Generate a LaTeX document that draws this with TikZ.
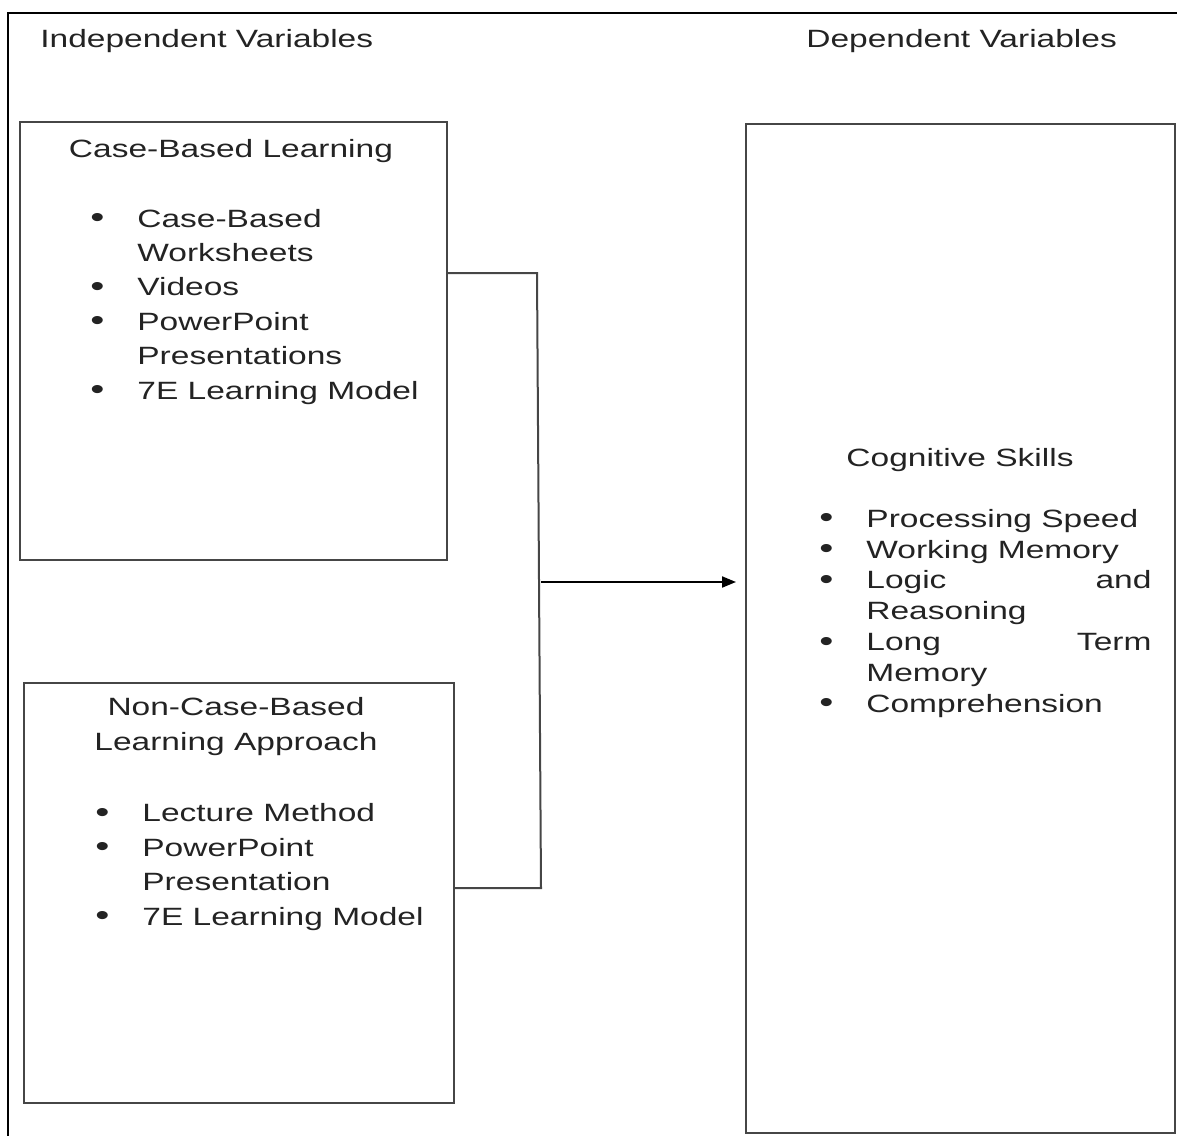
\documentclass[tikz,border=0pt]{standalone}
\usepackage{fontspec}
\setmainfont{Liberation Sans}[FakeStretch=1.34]
\usetikzlibrary{arrows.meta, positioning}
\definecolor{textcolor}{RGB}{35,35,35}
\definecolor{linecolor}{RGB}{70,70,70}
\newcommand{\bul}{\makebox[23.5pt][l]{\raisebox{-0.3pt}{\scalebox{1.2}{\textbullet}}}}
\newcommand{\cont}{\hspace*{23.5pt}}

\begin{document}
\begin{tikzpicture}[
    x=0.5pt, y=-0.5pt,
    varbox/.style={draw=linecolor, line width=1pt, inner sep=0pt},
    heading/.style={font=\fontsize{12.5}{17.2}\selectfont, text=textcolor, inner sep=0pt, anchor=base},
    listtext/.style={font=\fontsize{12.5}{17.2}\selectfont, text=textcolor, inner sep=0pt, align=left, anchor=base west},
    link/.style={draw=linecolor, line width=1pt},
    arrow/.style={-{Triangle[length=7pt, width=5.5pt]}, line width=1pt, draw=black, shorten >=4.5pt}
]
    \useasboundingbox (0,0) rectangle (1177,1135);
    % Outer frame
    \draw[black, line width=0.6pt] (8,1200) -- (8,13) -- (1200,13);

    % Column headings
    \node[heading, anchor=base west] (indep) at (40,47) {Independent Variables};
    \node[heading, anchor=base west] (dep) at (806,47) {Dependent Variables};

    % Boxes
    \node[varbox, minimum width=213.5pt, minimum height=219pt] (case) at (233.5,341) {};
    \node[varbox, minimum width=215pt, minimum height=210pt] (noncase) at (239,893) {};
    \node[varbox, minimum width=214.5pt, minimum height=504.5pt] (skills) at (960.5,628.5) {};

    % Case-based learning (base = last line)
    \node[heading] (casetitle) at (231,157) {Case-Based Learning};
    \node[listtext] (caselist) at (90,399) {\bul Case-Based\\ \cont Worksheets\\ \bul Videos\\ \bul PowerPoint\\ \cont Presentations\\ \bul 7E Learning Model};

    % Non-case-based learning
    \node[heading, align=center] (noncasetitle) at (236,750) {Non-Case-Based\\Learning Approach};
    \node[listtext] (noncaselist) at (95,925) {\bul Lecture Method\\ \bul PowerPoint\\ \cont Presentation\\ \bul 7E Learning Model};

    % Cognitive skills
    \node[heading] (skillstitle) at (960,466) {Cognitive Skills};
    \node[listtext, font=\fontsize{12.5}{15.4}\selectfont] (skillslist) at (819,712) {\bul Processing Speed\\ \bul Working Memory\\ \bul \makebox[142.5pt][s]{Logic\hfill and}\\ \cont Reasoning\\ \bul \makebox[142.5pt][s]{Long\hfill Term}\\ \cont Memory\\ \bul Comprehension};

    % Connectors
    \coordinate (top) at (537,273);
    \coordinate (bottom) at (541,888);
    \coordinate (mid) at (541,582);
    \draw[link] (case.east |- top) -- (top) -- (bottom) -- (noncase.east |- bottom);
    \draw[arrow] (mid) -- (skills.west |- mid);
\end{tikzpicture}
\end{document}
